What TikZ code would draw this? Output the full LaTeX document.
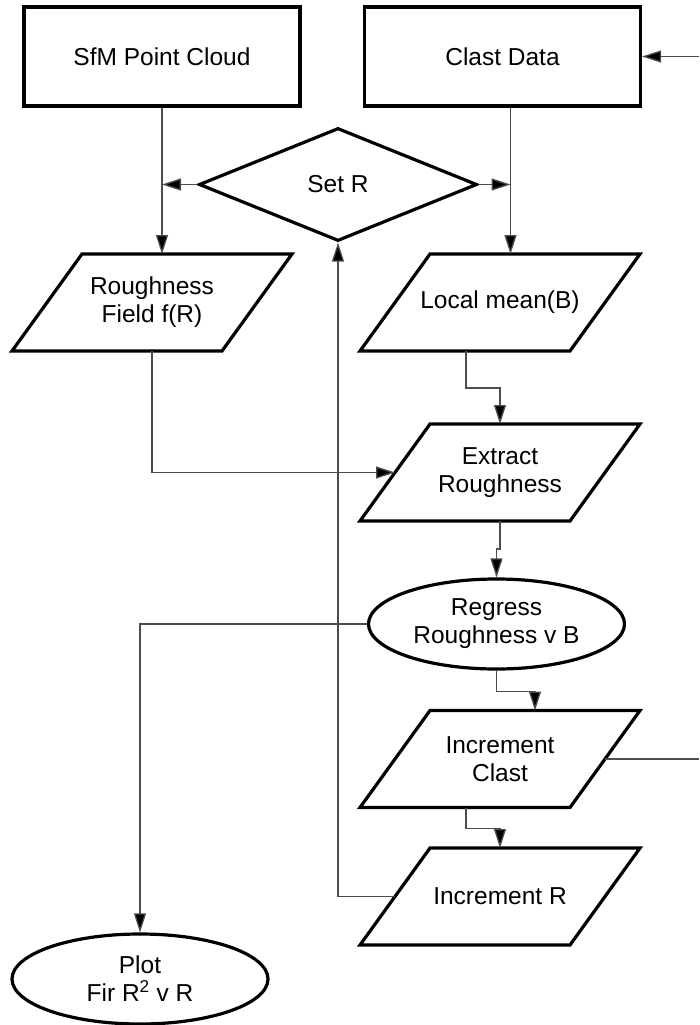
\documentclass[tikz,border=0pt]{standalone}
\usepackage{fontspec}
\setmainfont{Liberation Sans}
\usetikzlibrary{shapes.geometric,arrows.meta}

\begin{document}
\begin{tikzpicture}[x=1pt,y=-1pt,
                    font=\fontsize{24.5}{28}\selectfont,
                    box/.style={draw,line width=3.2pt,rectangle,minimum width=276pt,minimum height=99pt,inner sep=0pt},
                    choice/.style={draw,line width=3.2pt,diamond,minimum width=278pt,minimum height=113pt,inner sep=0pt},
                    io/.style={rectangle,minimum width=210pt,minimum height=97pt,inner sep=0pt,outer sep=0pt,align=center},
                    term/.style={draw,line width=3.2pt,ellipse,minimum width=256pt,minimum height=90pt,inner sep=0pt,align=center},
                    slanted/.style={line width=3.2pt,line join=miter},
                    flow/.style={line width=1.3pt,draw=black!70,-{Triangle[length=19pt,width=12pt,fill=black]}},
                    plain/.style={line width=1.3pt,draw=black!70}]

\useasboundingbox (0,0) rectangle (699,1025);

%top row
\node [box] (sfm)   at (162,56.5)  {SfM Point Cloud};
\node [box] (clast) at (502.5,56.5) {Clast Data};
%decision
\node [choice] (setr) at (338,184.5) {Set R};
%inputs
\node [io] (rf) at (152,302.5) {Roughness\\Field f(R)};
\node [io] (lm) at (500,302.5) {Local mean(B)};
\node [io] (ex) at (500,472.5) {Extract\\Roughness};
%regression
\node [term] (rg) at (496.5,624) {Regress\\Roughness v B};
\node [io] (ic) at (500,759) {Increment\\Clast};
\node [io] (ir) at (500,896.5) {Increment R};
%output
\node [term] (plot) at (140,979) {Plot\\Fir R\textsuperscript{2} v R};

%parallelogram outlines
\foreach \n in {rf,lm,ex,ic,ir}
  \draw [slanted] ([xshift=35pt]\n.north west) -- ([xshift=35pt]\n.north east)
                  -- ([xshift=-35pt]\n.south east) -- ([xshift=-35pt]\n.south west) -- cycle;

%free ends at the right border
\coordinate (cl)   at ([xshift=8pt]clast.south);
\coordinate (back) at (699,56.5);
\coordinate (out)  at (699,759);

%connectors
\draw [flow] (sfm.south) -- (sfm.south |- rf.north);
\draw [flow] (cl) -- (cl |- lm.north);
\draw [flow] (setr.west) -- (setr.west -| sfm.south);
\draw [flow] (setr.east) -- (setr.east -| cl);
\draw [flow] ([xshift=-34pt]lm.south) -- ++(0,37) -| (ex.north);
\draw [flow] (rf.south) |- (ex.west);
\draw [flow] (ex.south) -- ++(0,28) -| (rg.north);
\draw [flow] (rg.west) -| (plot.north);
\draw [flow] (rg.south) -- ++(0,21) -| ([xshift=35pt]ic.north);
\draw [flow] ([xshift=-34pt]ic.south) -- ++(0,21) -| (ir.north);
\draw [flow] (ir.west) -| (setr.south);
\draw [plain] (ic.east) -- (out);
\draw [flow] (back) -- (clast.east);

\end{tikzpicture}
\end{document}
